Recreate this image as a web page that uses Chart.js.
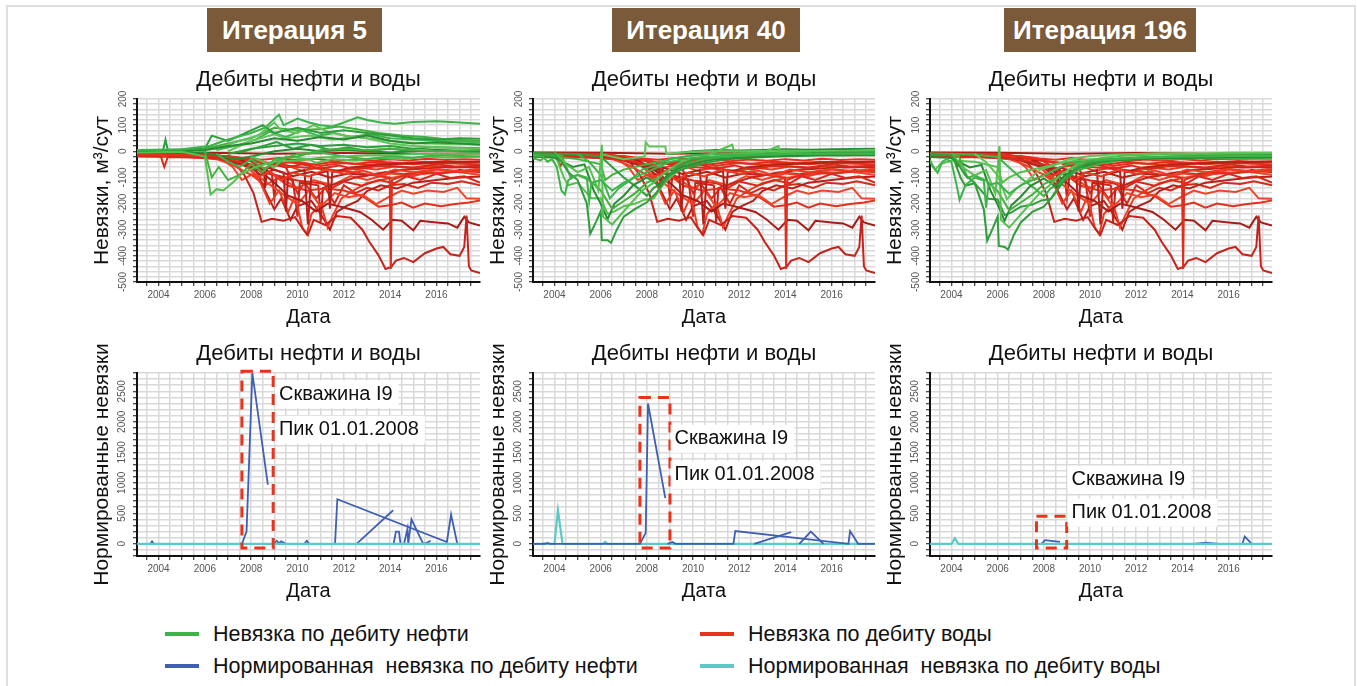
<!DOCTYPE html>
<html lang="ru">
<head>
<meta charset="utf-8">
<title>Невязки по итерациям</title>
<script src="https://cdn.jsdelivr.net/npm/chart.js@4.4.1/dist/chart.umd.min.js"></script>
<style>
  html, body { margin: 0; padding: 0; background: #fff; }
  body { width: 1357px; height: 686px; position: relative; overflow: hidden; font-family: "Liberation Sans", Arial, sans-serif; }
  .frame { position: absolute; left: 6px; top: 5px; width: 1350px; height: 720px; border: 2px solid #dedede; border-bottom: none; box-sizing: border-box; }
  .badge { position: absolute; top: 8px; height: 44px; line-height: 44px; background: #7a5a38; color: #fff; font-weight: bold; font-size: 26px; text-align: center; }
  .lg-line { position: absolute; width: 34px; height: 4px; }
  .lg-text { position: absolute; font-size: 21.5px; color: #111; white-space: pre; line-height: 26px; }
</style>
</head>
<body>
<div class="frame"></div>
<script>
// ---- данные ----
const iterations = ["Итерация 5", "Итерация 40", "Итерация 196"];
const panelTitle = "Дебиты нефти и воды";
const yearTicks = [2004, 2006, 2008, 2010, 2012, 2014, 2016];
const misfitTicks = [-500, -400, -300, -200, -100, 0, 100, 200];
const normTicks = [0, 500, 1000, 1500, 2000, 2500];

// невязки по дебиту воды (одинаковы для всех итераций), [год, м3/сут]
const waterLines = [
  [[2003.0,-12],[2004.0,-14],[2005.0,-13],[2006.0,-16],[2007.0,-18],[2007.8,-28],[2008.5,-32],[2009.2,-26],[2010.0,-34],[2010.8,-29],[2011.6,-38],[2012.4,-31],[2013.2,-36],[2014.0,-30],[2014.8,-35],[2015.6,-29],[2016.4,-33],[2017.2,-30],[2017.88,-32]],
  [[2003.0,-18],[2004.1,-20],[2004.25,-60],[2004.4,-22],[2005.5,-24],[2006.5,-27],[2007.5,-40],[2008.2,-55],[2008.7,-45],[2009.5,-62],[2010.2,-50],[2011.0,-66],[2011.8,-54],[2012.5,-70],[2013.3,-58],[2014.0,-56],[2015.0,-62],[2016.0,-50],[2016.8,-58],[2017.88,-55]],
  [[2003.5,-15],[2005.0,-19],[2006.5,-30],[2007.2,-52],[2007.8,-82],[2008.3,-100],[2008.8,-76],[2009.3,-112],[2009.8,-82],[2010.5,-96],[2011.2,-70],[2012.0,-86],[2012.8,-74],[2013.5,-92],[2014.2,-70],[2015.0,-80],[2016.0,-68],[2017.0,-76],[2017.88,-66]],
  [[2006.0,-20],[2007.0,-36],[2008.0,-62],[2008.55,-70],[2008.6,-140],[2008.7,-62],[2009.4,-82],[2009.5,-230],[2009.6,-86],[2010.3,-72],[2010.45,-280],[2010.6,-92],[2011.3,-76],[2011.4,-220],[2011.5,-80],[2012.3,-62],[2013.0,-56],[2014.0,-50],[2015.0,-46],[2016.0,-42],[2017.88,-40]],
  [[2003.0,-10],[2005.0,-12],[2007.0,-20],[2008.5,-42],[2010.0,-60],[2011.5,-72],[2012.5,-80],[2013.5,-96],[2013.98,-100],[2014.03,-450],[2014.08,-110],[2014.6,-92],[2015.2,-80],[2016.0,-86],[2017.0,-76],[2017.88,-72]],
  [[2006.8,-18],[2007.3,-45],[2007.7,-90],[2008.1,-160],[2008.45,-270],[2008.9,-258],[2009.4,-266],[2009.9,-252],[2010.25,-300],[2010.45,-320],[2010.7,-262],[2011.2,-282],[2011.7,-248],[2012.3,-254],[2012.8,-300],[2013.1,-346],[2013.5,-398],[2013.8,-450],[2014.05,-442],[2014.25,-418],[2014.6,-408],[2015.0,-424],[2015.5,-390],[2016.0,-372],[2016.3,-366],[2016.6,-394],[2017.0,-400],[2017.2,-366],[2017.3,-246],[2017.4,-440],[2017.5,-456],[2017.88,-466]],
  [[2007.5,-30],[2008.3,-70],[2009.0,-120],[2009.6,-170],[2010.2,-190],[2010.8,-230],[2011.3,-200],[2012.0,-215],[2012.7,-232],[2013.2,-262],[2013.7,-300],[2014.1,-262],[2014.5,-266],[2015.0,-302],[2015.3,-266],[2016.0,-272],[2016.5,-276],[2016.9,-292],[2017.2,-250],[2017.4,-272],[2017.88,-284]],
  [[2007.5,-40],[2008.5,-108],[2009.3,-160],[2010.0,-202],[2010.5,-150],[2011.0,-212],[2011.6,-160],[2012.2,-176],[2012.8,-166],[2013.4,-202],[2014.0,-172],[2014.5,-150],[2015.0,-162],[2015.6,-150],[2016.3,-156],[2016.9,-140],[2017.3,-180],[2017.88,-182]],
  [[2008.8,-80],[2009.6,-132],[2010.4,-150],[2011.2,-142],[2012.0,-150],[2012.8,-172],[2013.5,-212],[2014.0,-206],[2014.5,-196],[2015.0,-216],[2015.5,-200],[2016.2,-210],[2016.8,-202],[2017.4,-196],[2017.88,-188]],
  [[2008.0,-40],[2009.0,-90],[2010.0,-112],[2011.0,-122],[2011.5,-140],[2012.0,-116],[2012.8,-132],[2013.5,-110],[2014.2,-122],[2014.7,-96],[2015.3,-110],[2016.0,-86],[2016.6,-102],[2017.2,-96],[2017.88,-120]],
  [[2007.8,-50],[2008.4,-120],[2008.8,-200],[2009.2,-150],[2009.6,-232],[2009.9,-170],[2010.2,-290],[2010.4,-318],[2010.6,-240],[2011.0,-200],[2011.3,-292],[2011.5,-250],[2011.9,-180],[2012.4,-150],[2013.0,-122],[2014.0,-102],[2015.0,-90],[2016.0,-82],[2017.88,-76]],
  [[2008.2,-70],[2008.6,-150],[2009.0,-222],[2009.3,-180],[2009.7,-262],[2010.0,-210],[2010.6,-190],[2011.0,-240],[2011.4,-300],[2011.7,-232],[2012.1,-210],[2012.6,-190],[2013.0,-152],[2013.6,-130],[2014.3,-142],[2015.0,-120],[2016.0,-110],[2017.0,-100],[2017.88,-96]],
  [[2003.0,-8],[2006.0,-10],[2007.5,-26],[2008.5,-46],[2009.5,-40],[2010.5,-52],[2011.5,-42],[2012.5,-48],[2013.5,-40],[2014.5,-46],[2015.5,-40],[2016.5,-42],[2017.88,-40]],
  [[2007.5,-30],[2008.3,-70],[2008.9,-90],[2009.0,-180],[2009.1,-100],[2009.8,-110],[2010.0,-250],[2010.1,-120],[2010.9,-130],[2011.0,-270],[2011.1,-140],[2011.8,-120],[2012.5,-100],[2013.5,-86],[2014.5,-72],[2015.5,-66],[2016.5,-60],[2017.88,-62]],
  [[2003.0,-5],[2006.0,-6],[2009.0,-9],[2012.0,-7],[2015.0,-9],[2017.88,-8]],
  [[2006.5,-15],[2007.2,-60],[2007.6,-110],[2008.0,-90],[2008.6,-130],[2009.2,-100],[2010.0,-140],[2010.7,-110],[2011.5,-130],[2012.3,-95],[2013.0,-110],[2014.0,-85],[2015.0,-95],[2016.0,-70],[2017.0,-80],[2017.88,-90]],
  [[2003.0,-20],[2005.0,-22],[2007.0,-25],[2008.0,-38],[2009.0,-48],[2010.0,-40],[2011.0,-55],[2012.0,-45],[2013.0,-52],[2014.0,-44],[2015.0,-50],[2016.0,-45],[2017.0,-48],[2017.88,-50]],
  [[2009.5,-60],[2010.0,-160],[2010.3,-120],[2010.8,-180],[2011.2,-140],[2011.6,-200],[2012.0,-130],[2012.5,-160],[2013.0,-140],[2013.5,-150],[2014.0,-130],[2014.6,-125],[2015.2,-140],[2015.8,-120],[2016.5,-125],[2017.1,-115],[2017.88,-130]],
  [[2003.0,-15],[2006.0,-18],[2007.0,-30],[2007.8,-55],[2008.6,-65],[2009.4,-50],[2010.2,-75],[2011.0,-60],[2011.8,-80],[2012.6,-62],[2013.4,-70],[2014.2,-58],[2015.0,-66],[2015.8,-55],[2016.6,-62],[2017.88,-58]],
  [[2004.0,-10],[2006.5,-14],[2007.6,-35],[2008.4,-90],[2009.0,-70],[2009.8,-95],[2010.6,-78],[2011.4,-100],[2012.2,-85],[2013.0,-92],[2013.8,-80],[2014.6,-88],[2015.4,-78],[2016.2,-84],[2017.0,-72],[2017.88,-80]]
];

// невязки по дебиту нефти, итерация 5
const oilLines5 = [
  [[2003.0,5],[2005.0,8],[2006.2,20],[2007.0,45],[2008.0,70],[2008.6,90],[2009.2,140],[2009.4,100],[2010.0,125],[2010.5,110],[2011.0,100],[2011.5,95],[2012.0,110],[2012.6,130],[2013.0,120],[2013.6,110],[2014.2,105],[2015.0,112],[2016.0,115],[2017.0,110],[2017.88,105]],
  [[2003.0,2],[2004.2,5],[2004.3,45],[2004.4,5],[2006.0,10],[2006.3,60],[2007.0,40],[2008.0,80],[2008.5,100],[2009.0,70],[2010.0,90],[2011.0,70],[2012.0,80],[2013.0,70],[2014.0,60],[2015.0,50],[2016.0,45],[2017.0,50],[2017.88,48]],
  [[2003.0,-5],[2005.0,-2],[2006.0,-20],[2006.25,-165],[2006.5,-145],[2006.8,-150],[2007.2,-120],[2007.6,-85],[2008.2,-60],[2009.0,-40],[2010.0,-35],[2011.0,-25],[2012.0,-20],[2013.0,-15],[2014.0,-15],[2015.0,-10],[2016.0,-10],[2017.88,-8]],
  [[2006.0,0],[2006.3,-100],[2006.6,-60],[2007.0,-110],[2007.5,-90],[2008.0,-50],[2008.5,-80],[2009.0,-30],[2010.0,-20],[2011.0,5],[2012.0,10],[2013.0,5],[2014.0,10],[2015.0,5],[2016.0,0],[2017.88,5]],
  [[2003.0,0],[2006.0,5],[2007.0,20],[2008.0,30],[2009.0,50],[2010.0,40],[2011.0,55],[2012.0,45],[2013.0,60],[2014.0,40],[2015.0,30],[2016.0,35],[2017.0,30],[2017.88,25]],
  [[2005.5,0],[2006.5,10],[2007.5,40],[2008.3,60],[2009.0,110],[2009.3,80],[2010.0,70],[2010.7,100],[2011.3,75],[2012.0,60],[2013.0,50],[2014.0,30],[2015.0,20],[2016.0,15],[2017.88,10]],
  [[2006.5,-10],[2007.0,-40],[2007.5,-60],[2008.0,-30],[2008.6,-70],[2009.0,-40],[2010.0,-10],[2011.0,-5],[2012.0,-20],[2013.0,-30],[2014.0,-20],[2015.0,-25],[2016.0,-15],[2017.88,-20]],
  [[2007.0,-10],[2008.0,10],[2009.0,20],[2010.0,30],[2011.0,20],[2012.0,25],[2013.0,15],[2014.0,20],[2015.0,10],[2016.0,15],[2017.88,12]],
  [[2008.0,-20],[2008.5,-40],[2009.0,-60],[2009.5,-20],[2010.5,-30],[2010.8,-45],[2011.5,-30],[2012.5,-35],[2013.5,-25],[2014.5,-30],[2015.5,-20],[2016.5,-25],[2017.88,-20]],
  [[2006.0,10],[2007.0,30],[2008.0,50],[2009.0,90],[2010.0,80],[2011.0,85],[2011.8,95],[2012.5,85],[2013.5,70],[2014.5,60],[2015.5,55],[2016.5,45],[2017.88,40]],
  [[2003.5,0],[2006.0,-5],[2007.3,-30],[2008.0,-20],[2009.0,0],[2010.0,10],[2011.0,0],[2012.0,5],[2013.0,0],[2014.0,-5],[2015.0,0],[2016.0,5],[2017.88,0]],
  [[2007.0,0],[2008.0,40],[2009.0,65],[2009.5,50],[2010.5,60],[2011.5,45],[2012.5,55],[2013.5,45],[2014.5,35],[2015.5,30],[2016.5,28],[2017.88,30]],
  [[2006.5,5],[2007.5,25],[2008.2,45],[2008.8,75],[2009.5,55],[2010.2,80],[2010.9,60],[2011.6,70],[2012.3,55],[2013.1,65],[2014.0,50],[2015.0,45],[2016.0,40],[2017.88,35]],
  [[2007.5,-5],[2008.3,15],[2009.1,35],[2009.8,10],[2010.6,25],[2011.4,5],[2012.2,15],[2013.0,0],[2014.0,10],[2015.0,0],[2016.0,5],[2017.88,-5]]
];

// невязки по дебиту нефти, итерация 40
const oilLines40 = [
  [[2003.0,-15],[2003.5,-20],[2003.7,-40],[2003.9,-30],[2004.1,-60],[2004.3,-150],[2004.45,-165],[2004.6,-110],[2005.0,-90],[2005.4,-100],[2005.5,-190],[2005.6,-120],[2006.0,-110],[2006.5,-150],[2007.0,-120],[2007.5,-100],[2008.0,-80],[2008.5,-60],[2009.0,-40],[2010.0,-25],[2011.0,-20],[2012.0,-15],[2013.0,-12],[2014.0,-10],[2015.0,-10],[2016.0,-8],[2017.88,-8]],
  [[2003.0,-5],[2004.0,-10],[2004.3,-40],[2004.6,-80],[2005.0,-110],[2005.4,-200],[2005.55,-315],[2005.8,-270],[2006.0,-230],[2006.05,-340],[2006.3,-340],[2006.45,-350],[2006.7,-300],[2007.0,-250],[2007.5,-220],[2008.0,-195],[2008.4,-160],[2008.8,-110],[2009.3,-60],[2010.0,-30],[2011.0,-20],[2012.0,-15],[2013.0,-12],[2014.0,-10],[2015.0,-8],[2016.0,-6],[2017.88,-5]],
  [[2004.0,-5],[2004.5,-50],[2005.0,-80],[2005.5,-60],[2005.9,-150],[2006.05,25],[2006.1,-250],[2006.5,-280],[2006.9,-240],[2007.3,-200],[2007.8,-150],[2008.3,-120],[2008.8,-80],[2009.5,-40],[2010.5,-20],[2011.7,25],[2011.8,-10],[2013.0,-5],[2013.7,20],[2013.75,-5],[2015.0,0],[2016.0,-2],[2017.88,0]],
  [[2003.0,-10],[2004.3,-15],[2004.7,-100],[2005.0,-90],[2005.5,-110],[2006.0,-150],[2006.5,-220],[2007.0,-190],[2007.5,-160],[2008.0,-120],[2008.5,-100],[2009.0,-70],[2009.6,-50],[2010.5,-30],[2011.5,-20],[2012.5,-15],[2013.5,-12],[2014.5,-10],[2015.5,-10],[2016.5,-8],[2017.88,-10]],
  [[2003.0,-20],[2004.0,-25],[2004.8,-60],[2005.3,-50],[2005.7,-150],[2006.0,-200],[2006.3,-260],[2006.6,-200],[2007.0,-170],[2007.4,-130],[2008.0,-100],[2008.5,-130],[2008.9,-90],[2009.5,-60],[2010.3,-40],[2011.0,-30],[2012.0,-25],[2013.0,-20],[2014.0,-18],[2015.0,-15],[2016.0,-15],[2017.88,-15]],
  [[2006.0,-10],[2007.0,-30],[2007.9,-20],[2007.95,35],[2008.1,18],[2008.8,18],[2008.85,-10],[2009.5,-5],[2010.5,0],[2012.0,0],[2014.0,2],[2016.0,0],[2017.88,5]],
  [[2005.0,-10],[2005.5,-40],[2006.0,-90],[2006.4,-180],[2006.8,-140],[2007.3,-110],[2007.8,-70],[2008.5,-50],[2009.0,-30],[2010.0,-15],[2011.0,-10],[2012.0,-8],[2013.0,-5],[2014.0,-5],[2015.0,-5],[2016.0,-3],[2017.88,-3]],
  [[2003.0,-8],[2005.0,-10],[2006.0,-20],[2006.5,-60],[2007.0,-100],[2007.6,-140],[2008.0,-170],[2008.3,-140],[2008.7,-120],[2009.0,-90],[2009.5,-70],[2010.5,-45],[2011.5,-30],[2012.5,-25],[2013.5,-20],[2014.5,-18],[2015.5,-15],[2016.5,-15],[2017.88,-12]],
  [[2004.0,-5],[2004.4,-100],[2004.6,-130],[2005.0,-120],[2005.6,-180],[2006.0,-180],[2006.3,-240],[2006.6,-230],[2007.0,-210],[2007.5,-200],[2007.9,-185],[2008.3,-180],[2008.6,-140],[2009.0,-100],[2009.6,-60],[2010.5,-35],[2011.5,-25],[2013.0,-18],[2015.0,-12],[2017.88,-10]],
  [[2003.0,-25],[2003.4,-35],[2003.6,-20],[2004.0,-20],[2005.0,-30],[2006.0,-50],[2006.2,-110],[2006.5,-90],[2007.0,-70],[2008.0,-50],[2009.0,-30],[2010.0,-15],[2011.0,-10],[2012.0,-8],[2013.0,-10],[2014.0,-8],[2015.0,-6],[2016.0,-8],[2017.88,-10]],
  [[2009.0,-10],[2010.0,0],[2011.0,5],[2012.0,3],[2013.0,5],[2014.0,8],[2015.0,6],[2016.0,8],[2017.88,10]]
];

// невязки по дебиту нефти, итерация 196
const oilLines196 = [
  [[2003.0,-20],[2003.2,-60],[2003.4,-82],[2003.6,-40],[2003.8,-30],[2004.0,-42],[2004.2,-120],[2004.35,-186],[2004.6,-130],[2005.0,-100],[2005.4,-112],[2005.5,-216],[2005.6,-130],[2006.0,-120],[2006.5,-162],[2007.0,-130],[2007.5,-110],[2008.0,-92],[2008.5,-70],[2009.0,-50],[2010.0,-36],[2011.0,-30],[2012.0,-26],[2013.0,-22],[2014.0,-20],[2015.0,-20],[2016.0,-18],[2017.88,-18]],
  [[2003.0,-10],[2004.0,-15],[2004.3,-50],[2004.6,-92],[2005.0,-120],[2005.4,-222],[2005.55,-342],[2005.8,-292],[2006.0,-250],[2006.05,-362],[2006.3,-366],[2006.45,-376],[2006.7,-320],[2007.0,-272],[2007.5,-232],[2008.0,-212],[2008.4,-172],[2008.8,-122],[2009.3,-72],[2010.0,-42],[2011.0,-32],[2012.0,-26],[2013.0,-22],[2014.0,-20],[2015.0,-18],[2016.0,-16],[2017.88,-15]],
  [[2004.0,-10],[2004.5,-62],[2005.0,-92],[2005.5,-72],[2005.9,-162],[2006.08,20],[2006.14,-262],[2006.5,-292],[2006.9,-252],[2007.3,-212],[2007.8,-162],[2008.3,-126],[2008.8,-86],[2009.5,-46],[2010.5,-26],[2011.5,-16],[2013.0,-12],[2015.0,-10],[2017.88,-10]],
  [[2003.0,-12],[2004.3,-16],[2004.7,-102],[2005.0,-92],[2005.5,-112],[2006.0,-152],[2006.5,-226],[2007.0,-196],[2007.5,-166],[2008.0,-126],[2008.5,-104],[2009.0,-74],[2009.6,-52],[2010.5,-34],[2011.5,-26],[2012.5,-22],[2013.5,-20],[2014.5,-18],[2015.5,-18],[2016.5,-16],[2017.88,-16]],
  [[2003.0,-22],[2004.0,-26],[2004.8,-62],[2005.3,-52],[2005.7,-152],[2006.0,-204],[2006.3,-266],[2006.6,-206],[2007.0,-174],[2007.4,-134],[2008.0,-104],[2008.5,-134],[2008.9,-92],[2009.5,-62],[2010.3,-42],[2011.0,-34],[2012.0,-30],[2013.0,-28],[2014.0,-26],[2015.0,-25],[2016.0,-24],[2017.88,-24]],
  [[2005.0,-10],[2005.5,-42],[2006.0,-92],[2006.4,-184],[2006.8,-144],[2007.3,-112],[2007.8,-72],[2008.5,-52],[2009.0,-32],[2010.0,-18],[2011.0,-12],[2012.0,-10],[2013.0,-8],[2014.0,-8],[2015.0,-8],[2016.0,-6],[2017.88,-6]],
  [[2003.0,-8],[2005.0,-12],[2006.0,-22],[2006.5,-62],[2007.0,-102],[2007.6,-142],[2008.0,-172],[2008.3,-142],[2008.7,-122],[2009.0,-92],[2009.5,-72],[2010.5,-46],[2011.5,-32],[2012.5,-28],[2013.5,-24],[2014.5,-22],[2015.5,-20],[2016.5,-20],[2017.88,-18]],
  [[2004.0,-6],[2004.4,-102],[2004.6,-132],[2005.0,-122],[2005.6,-182],[2006.0,-184],[2006.3,-244],[2006.6,-234],[2007.0,-212],[2007.5,-204],[2007.9,-188],[2008.3,-182],[2008.6,-142],[2009.0,-102],[2009.6,-62],[2010.5,-36],[2011.5,-28],[2013.0,-22],[2015.0,-20],[2017.88,-20]],
  [[2003.0,-30],[2003.3,-70],[2003.5,-50],[2004.0,-35],[2005.0,-40],[2006.0,-60],[2006.2,-120],[2006.5,-100],[2007.0,-80],[2008.0,-60],[2009.0,-40],[2010.0,-30],[2011.0,-28],[2012.0,-26],[2013.0,-30],[2014.0,-28],[2015.0,-26],[2016.0,-28],[2017.88,-30]]
];

// нормированные невязки по дебиту нефти (синие), по итерациям
const normOil5 = [
  [[2003.0,0],[2003.65,0],[2003.72,40],[2003.8,0],[2007.6,0],[2007.8,200],[2008.05,2800],[2008.72,970]],
  [[2008.98,0],[2009.1,50],[2009.2,10],[2009.3,40],[2009.5,0],[2010.3,0],[2010.4,50],[2010.5,0],[2011.62,0],[2011.72,730],[2016.45,30],[2016.63,480],[2016.9,0],[2017.88,0]],
  [[2012.55,0],[2014.13,550]],
  [[2014.15,0],[2014.25,200],[2014.38,200],[2014.45,0],[2014.6,0],[2014.75,250],[2014.78,0],[2014.92,400],[2015.43,0],[2015.6,20],[2015.75,50]]
];
const normOil40 = [
  [[2003.0,0],[2003.6,0],[2003.7,15],[2003.8,0],[2007.7,0],[2007.95,180],[2008.05,2300],[2008.8,750]],
  [[2008.9,0],[2009.1,30],[2009.25,0],[2011.75,0],[2011.83,210],[2016.73,0],[2016.8,210],[2017.15,0],[2017.88,0]],
  [[2012.65,0],[2014.25,190]],
  [[2014.6,0],[2015.1,200],[2015.65,0]]
];
const normOil196 = [
  [[2007.9,0],[2008.05,60],[2008.7,30]],
  [[2014.5,0],[2015.0,20],[2015.6,0]],
  [[2016.6,0],[2016.7,120],[2017.0,0]]
];
// нормированные невязки по дебиту воды (бирюзовые)
const normWater5 = [[[2003.0,0],[2017.88,0]]];
const normWater40 = [[[2003.0,0],[2003.5,0],[2003.55,10],[2003.6,0],[2004.0,0],[2004.15,550],[2004.35,0],[2006.1,0],[2006.2,30],[2006.3,0],[2017.88,0]]];
const normWater196 = [[[2003.0,0],[2004.0,0],[2004.15,90],[2004.3,0],[2017.88,0]]];

// пики скважины I9: рамка (год, значение) и подписи
const peakBoxes = [
  {x0: 2007.6, x1: 2008.95, y0: -70, y1: 2830},
  {x0: 2007.7, x1: 2009.0, y0: -70, y1: 2400},
  {x0: 2007.68, x1: 2008.99, y0: -70, y1: 450}
];
const peakText = ["Скважина I9", "Пик 01.01.2008"];
const peakTextY = [[2450, 1870], [1720, 1130], [1050, 510]];
const peakTextX = 2009.2;

const legendItems = [
  {label: "Невязка по дебиту нефти", color: "#3cb44a"},
  {label: "Невязка по дебиту воды", color: "#e8341c"},
  {label: "Нормированная  невязка по дебиту нефти", color: "#3f5fb5"},
  {label: "Нормированная  невязка по дебиту воды", color: "#5cc9c9"}
];

// ---- оформление ----
const FONT = '"Liberation Sans", Arial, sans-serif';
Chart.defaults.font.family = FONT;
const colLeft = [137, 533, 930], colRight = [480, 875, 1272];
const rowTop = [99, 373], rowBottom = [282, 556];
const AXIS_W = 50, AXIS_H = 50, TITLE_H = 32;
const X_MIN = 2003.07, X_MAX = 2017.88;
const redPalette = ["#e5301c", "#d9291b", "#ee3b24", "#b5201a", "#e02d1d", "#c4241b", "#a81c18", "#f04428"];
const greenPalette = ["#3cb44a", "#2f9e3c", "#55c04f", "#45b03f", "#278c33", "#62c45a"];

const GRID = {color: "#d9d9d9", lineWidth: 1.5, tickColor: "#111", tickLength: 4, tickWidth: 1, drawTicks: true};
const BORDER = {display: true, color: "#111", width: 2};

function lineSet(points, color, width) {
  return {
    data: points.map(p => ({x: p[0], y: p[1]})),
    borderColor: color, borderWidth: width,
    pointRadius: 0, fill: false, tension: 0
  };
}

// рамка и подписи пиков
const notesPlugin = {
  id: "notes",
  afterDatasetsDraw(chart, args, opts) {
    if (!opts || !opts.box) return;
    const {ctx, scales: {x, y}} = chart;
    const b = opts.box;
    const x0 = x.getPixelForValue(b.x0), x1 = x.getPixelForValue(b.x1);
    const y0 = y.getPixelForValue(b.y0), y1 = y.getPixelForValue(b.y1);
    ctx.save();
    ctx.strokeStyle = "#e8341c";
    ctx.lineWidth = 3;
    ctx.setLineDash([11, 7]);
    ctx.strokeRect(x0, y1, x1 - x0, y0 - y1);
    ctx.setLineDash([]);
    ctx.font = "20px " + FONT;
    ctx.textBaseline = "middle";
    opts.labels.forEach(l => {
      const px = x.getPixelForValue(l.x), py = y.getPixelForValue(l.y);
      const w = ctx.measureText(l.text).width;
      ctx.fillStyle = "#fff";
      ctx.fillRect(px - 4, py - 14, w + 10, 28);
      ctx.fillStyle = "#111";
      ctx.fillText(l.text, px, py);
    });
    ctx.restore();
  }
};

function yAxis(min, max, step, labelled, title) {
  return {
    type: "linear", min: min, max: max,
    ticks: {
      stepSize: step, maxTicksLimit: 1000, autoSkip: false,
      minRotation: 90, maxRotation: 90, crossAlign: "center", padding: 0,
      color: "#555", font: {size: 10},
      callback: v => (labelled.includes(Math.round(v)) && Math.abs(v - Math.round(v)) < 1e-6) ? String(Math.round(v)) : ""
    },
    grid: GRID, border: BORDER,
    title: {display: true, text: title, color: "#111", font: {size: 21}, padding: {top: 3, bottom: 0}},
    afterFit: s => { s.width = AXIS_W; }
  };
}

function xAxis() {
  return {
    type: "linear", min: X_MIN, max: X_MAX,
    ticks: {
      stepSize: 0.5, maxTicksLimit: 1000, autoSkip: false, includeBounds: false,
      minRotation: 0, maxRotation: 0, padding: 3,
      color: "#555", font: {size: 10},
      callback: v => yearTicks.includes(v) ? String(v) : ""
    },
    grid: GRID, border: BORDER,
    title: {display: true, text: "Дата", color: "#111", font: {size: 20}, padding: {top: 0, bottom: 3}},
    afterFit: s => { s.height = AXIS_H; }
  };
}

function makePanel(col, row, datasets, y, notes) {
  const left = colLeft[col], right = colRight[col], top = rowTop[row], bottom = rowBottom[row];
  const w = right - left + AXIS_W + 8, h = bottom - top + TITLE_H + AXIS_H;
  const c = document.createElement("canvas");
  c.width = w; c.height = h;
  c.style.cssText = "position:absolute;left:" + (left - AXIS_W) + "px;top:" + (top - TITLE_H) + "px;width:" + w + "px;height:" + h + "px";
  document.body.appendChild(c);
  new Chart(c, {
    type: "line",
    data: {datasets: datasets},
    options: {
      responsive: false, animation: false, events: [],
      layout: {padding: {left: 0, right: 8, top: 0, bottom: 0}},
      plugins: {
        legend: {display: false}, tooltip: {enabled: false},
        title: {display: true, text: panelTitle, fullSize: false, color: "#111", font: {size: 22, weight: "normal", lineHeight: 1.2}, padding: {top: 0, bottom: 5.6}},
        notes: notes || false
      },
      scales: {x: xAxis(), y: y}
    },
    plugins: [notesPlugin]
  });
}

// бейджи итераций
const badgeLeft = [207, 612, 1004], badgeWidth = [175, 188, 192];
iterations.forEach((t, i) => {
  const d = document.createElement("div");
  d.className = "badge";
  d.style.left = badgeLeft[i] + "px";
  d.style.width = badgeWidth[i] + "px";
  d.textContent = t;
  document.body.appendChild(d);
});

// верхний ряд: невязки дебитов (зелёные поверх красных)
const oilByIter = [oilLines5, oilLines40, oilLines196];
oilByIter.forEach((oil, i) => {
  const ds = oil.map((p, k) => lineSet(p, greenPalette[k % greenPalette.length], 2))
    .concat(waterLines.map((p, k) => lineSet(p, redPalette[k % redPalette.length], 2)));
  makePanel(i, 0, ds, yAxis(-500, 200, 20, misfitTicks, "Невязки, м³/сут"));
});

// нижний ряд: нормированные невязки
const normSets = [
  normWater5.map(p => lineSet(p, "#5cc9c9", 2.2)).concat(normOil5.map(p => lineSet(p, "#3f5fb5", 1.8))),
  normOil40.map(p => lineSet(p, "#3f5fb5", 1.8)).concat(normWater40.map(p => lineSet(p, "#5cc9c9", 2.2))),
  normWater196.map(p => lineSet(p, "#5cc9c9", 2.2)).concat(normOil196.map(p => lineSet(p, "#3f5fb5", 1.8)))
];
normSets.forEach((ds, i) => {
  makePanel(i, 1, ds, yAxis(-200, 2800, 100, normTicks, "Нормированные невязки"), {
    box: peakBoxes[i],
    labels: peakText.map((t, k) => ({text: t, x: peakTextX, y: peakTextY[i][k]}))
  });
});

// общая легенда
const lgX = [165, 700], lgY = [634, 666];
legendItems.forEach((it, i) => {
  const x = lgX[i % 2], y = lgY[Math.floor(i / 2)];
  const ln = document.createElement("div");
  ln.className = "lg-line";
  ln.style.cssText = "left:" + x + "px;top:" + (y - 2) + "px;background:" + it.color;
  const tx = document.createElement("div");
  tx.className = "lg-text";
  tx.style.cssText = "left:" + (x + 48) + "px;top:" + (y - 13) + "px";
  tx.textContent = it.label;
  document.body.appendChild(ln);
  document.body.appendChild(tx);
});
</script>
</body>
</html>
